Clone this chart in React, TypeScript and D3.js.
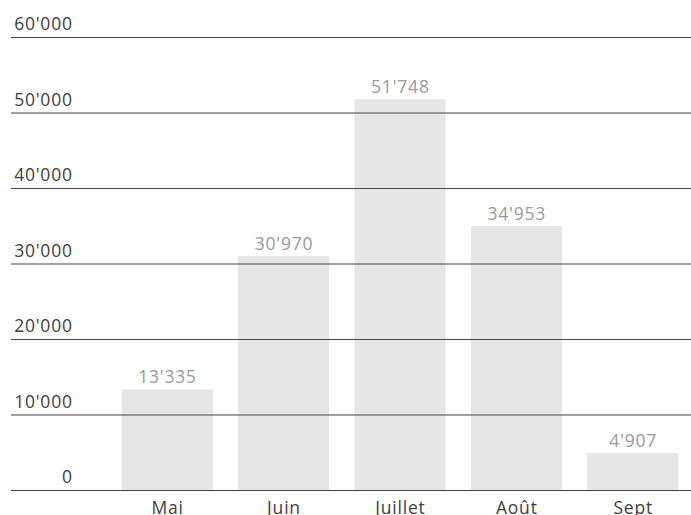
import React from "react";
import * as d3 from "d3";

const categories = ["Mai", "Juin", "Juillet", "Août", "Sept"];
const values = [13335, 30970, 51748, 34953, 4907];
const ticks = [0, 10000, 20000, 30000, 40000, 50000, 60000];

const W = 691;
const H = 515;
const fmt = (v: number) => d3.format(",")(v).replace(/,/g, "'");

export default function App() {
  const x = d3
    .scaleBand<string>()
    .domain(categories)
    .range([109, 691])
    .paddingInner(0.217)
    .paddingOuter(0.1085);
  const y = d3.scaleLinear().domain([0, 60000]).range([490, 37]);
  const font = "'Open Sans', sans-serif";
  const ls = 0.8;

  return (
    <svg
      width={W}
      height={H}
      style={{ position: "absolute", left: 0, top: 0, background: "#fff" }}
    >
      {categories.map((c, i) => (
        <rect
          key={c}
          x={x(c)}
          y={y(values[i])}
          width={x.bandwidth()}
          height={y(0) - y(values[i])}
          fill="#e6e6e6"
        />
      ))}
      {ticks.map((t) => (
        <g key={t}>
          <line x1={11} x2={W} y1={y(t) + 0.5} y2={y(t) + 0.5} stroke="#444" strokeWidth={1} />
          <text
            x={72 + ls}
            y={y(t) - 7}
            textAnchor="end"
            fontFamily={font}
            fontSize={17.5}
            fontWeight={400}
            letterSpacing={ls}
            fill="#404040"
          >
            {t === 0 ? "0" : fmt(t)}
          </text>
        </g>
      ))}
      {categories.map((c, i) => (
        <text
          key={c + "v"}
          x={(x(c) as number) + x.bandwidth() / 2 + ls / 2}
          y={y(values[i]) - 6}
          textAnchor="middle"
          fontFamily={font}
          fontSize={17.5}
          fontWeight={400}
          letterSpacing={ls}
          fill="#9a9a9a"
        >
          {fmt(values[i])}
        </text>
      ))}
      {categories.map((c) => (
        <text
          key={c + "l"}
          x={(x(c) as number) + x.bandwidth() / 2 + ls / 2}
          y={514}
          textAnchor="middle"
          fontFamily={font}
          fontSize={17.5}
          fontWeight={400}
          letterSpacing={ls}
          fill="#404040"
        >
          {c}
        </text>
      ))}
    </svg>
  );
}
